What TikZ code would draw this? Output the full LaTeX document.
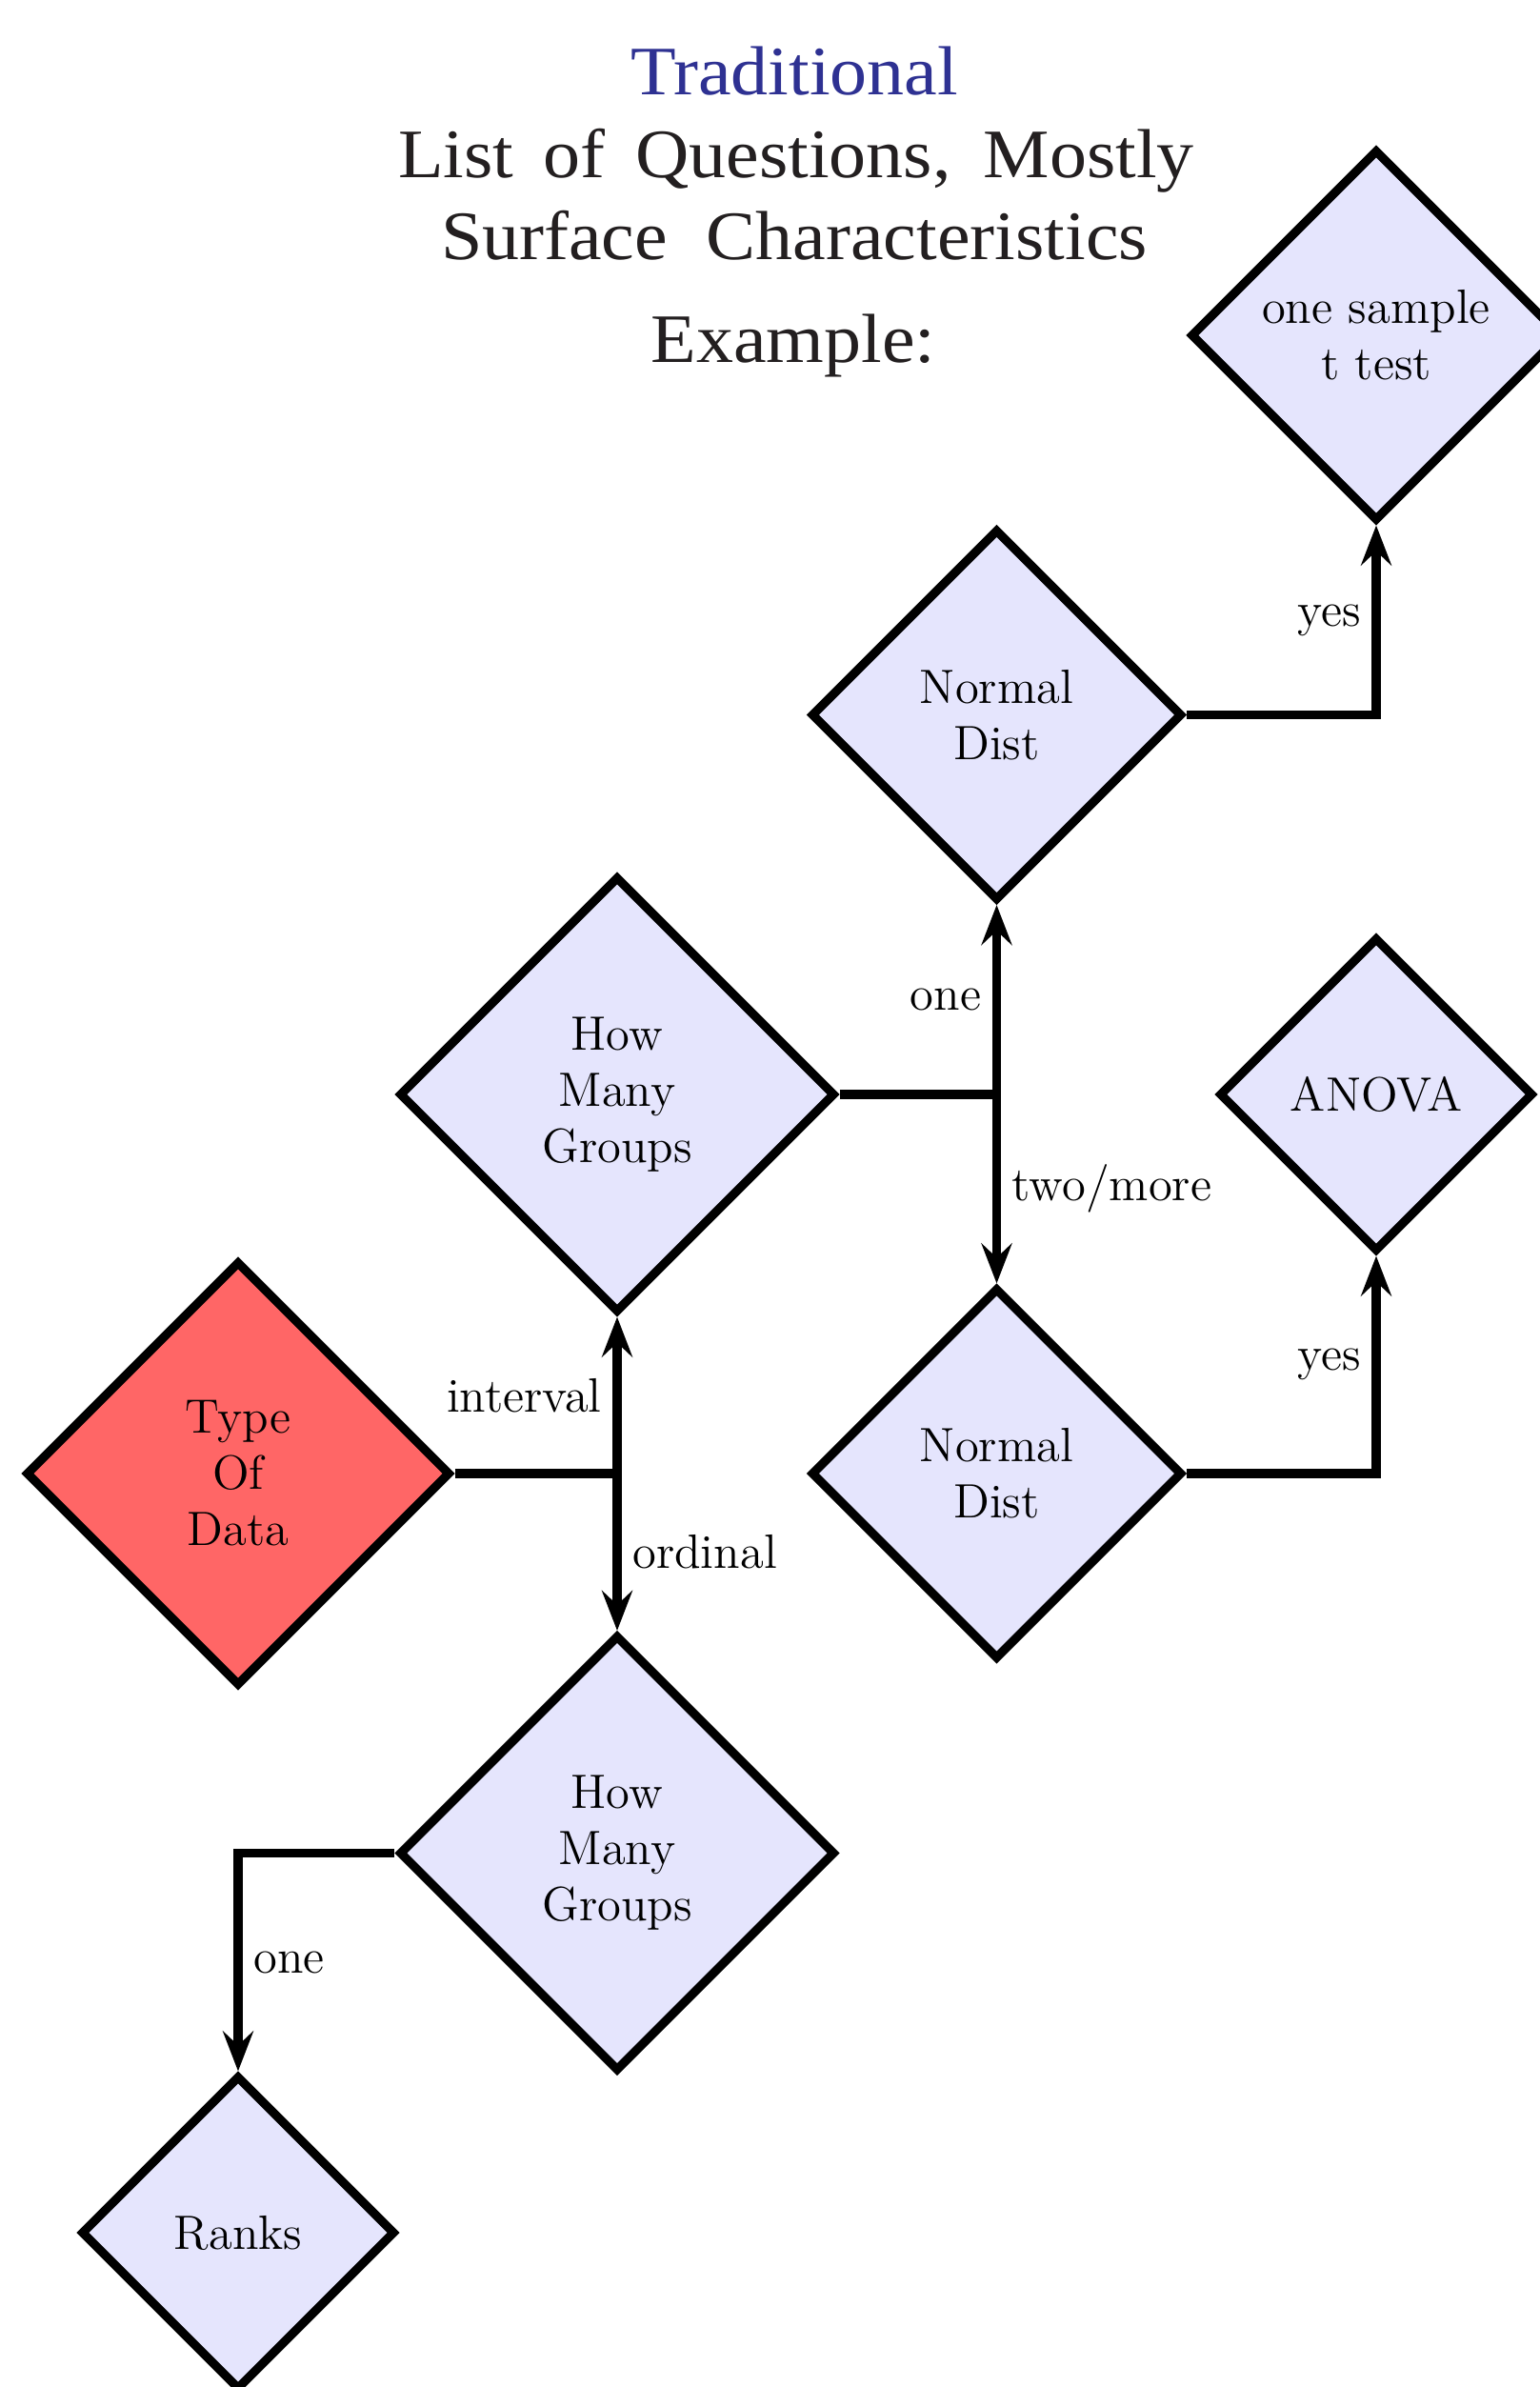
\documentclass[tikz,border=0pt]{standalone}
\usepackage{fontspec}
\newfontfamily\titlefont[FakeStretch=1.07]{Liberation Serif}
\usetikzlibrary{shapes.geometric,arrows.meta}
\definecolor{titleblue}{RGB}{46,49,146}
\definecolor{titlegray}{RGB}{35,31,32}
\definecolor{boxfill}{RGB}{229,229,253}
\definecolor{startfill}{RGB}{255,102,102}
\begin{document}
\begin{tikzpicture}[
  dia/.style={diamond, draw=black, line width=2.6pt, fill=boxfill, inner sep=0pt,
    align=center, font=\fontsize{14.4}{16.8}\selectfont, minimum size=#1},
  conn/.style={line width=2.65pt},
  arr/.style={conn, -{Stealth[length=4.2mm,width=3.2mm,inset=1.5mm]}},
  lbl/.style={font=\fontsize{14.4}{16.8}\selectfont},
  ttl/.style={anchor=base, font=\titlefont\fontsize{20.74}{25}\selectfont, text=titlegray}
]
\useasboundingbox (0,0) rectangle (16.17,-25.06);

% title
\node[ttl, text=titleblue] (t1) at (8.34,-1.00) {Traditional};
\node[ttl] (t2) at (8.36,-1.87) {\makebox[8.36cm][s]{List of Questions, Mostly}};
\node[ttl] (t3) at (8.34,-2.73) {\makebox[7.42cm][s]{Surface Characteristics}};
\node[ttl] (t4) at (8.33,-3.81) {Example:};

% grid: columns 2.50, 6.48, 10.465, 14.45 ; rows -3.52, -7.505, -11.49, -15.47, -19.455, -23.44
\node[dia=4.46cm, fill=startfill] (type) at (2.50,-15.47) {Type\\Of\\Data};
\node[dia=4.58cm] (hmg1) at (6.48,-11.49) {How\\Many\\Groups};
\node[dia=4.58cm] (hmg2) at (6.48,-19.455) {How\\Many\\Groups};
\node[dia=3.90cm] (nd1) at (10.465,-7.505) {Normal\\Dist};
\node[dia=3.90cm] (nd2) at (10.465,-15.47) {Normal\\Dist};
\node[dia=3.90cm] (ost) at (14.45,-3.52) {one sample\\t test};
\node[dia=3.30cm] (anova) at (14.45,-11.49) {ANOVA};
\node[dia=3.30cm] (ranks) at (2.50,-23.44) {Ranks};

\coordinate (j1) at (6.48,-15.47);
\coordinate (j2) at (10.465,-11.49);

% connectors
\draw[conn] (type.east) -- (j1);
\draw[arr] (j1) -- node[lbl, midway, left] {interval} (hmg1.south);
\draw[arr] (j1) -- node[lbl, midway, right] {ordinal} (hmg2.north);

\draw[conn] (hmg1.east) -- (j2);
\draw[arr] (j2) -- node[lbl, midway, left] {one} (nd1.south);
\draw[arr] (j2) -- node[lbl, midway, right] {two/more} (nd2.north);

\draw[arr] (nd1.east) -| node[lbl, pos=0.75, left] {yes} (ost.south);
\draw[arr] (nd2.east) -| node[lbl, pos=0.75, left] {yes} (anova.south);
\draw[arr] (hmg2.west) -| node[lbl, pos=0.75, right] {one} (ranks.north);
\end{tikzpicture}
\end{document}
